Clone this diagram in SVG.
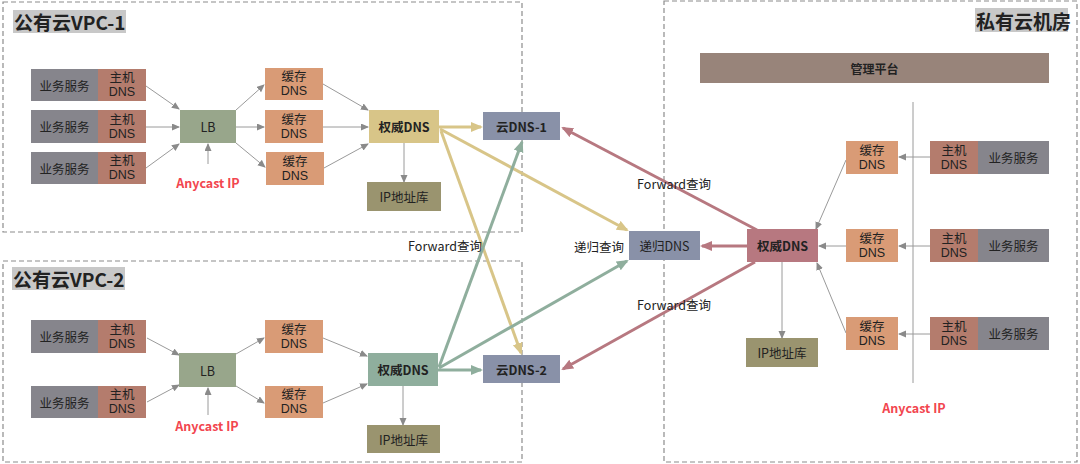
<svg xmlns="http://www.w3.org/2000/svg" width="1080" height="464" viewBox="0 0 1080 464">
<style>
text{font-family:"Noto Sans CJK SC","Open Sans",sans-serif;fill:#222;text-anchor:middle;dominant-baseline:central;font-size:12.5px}
text.m{font-family:"Liberation Sans","Noto Sans CJK SC",sans-serif}
.b{font-weight:bold}
.t{font-weight:bold;font-size:19px;text-anchor:start}
.red{fill:#f2464f;font-weight:bold;font-size:12.5px}
.zone{fill:none;stroke:#8c8c8c;stroke-width:1.2;stroke-dasharray:5,3}
.tbg{fill:#c8c8c8}
.svc{fill:#86858c}
.host{fill:#b47c6d}
.cache{fill:#d99b76}
.lb{fill:#98a68b}
.ipdb{fill:#9a946f}
.cdns{fill:#8991a8}
.thin{stroke:#9a9a9a;stroke-width:1;fill:none}
.ty{stroke:#d8c588;stroke-width:3;fill:none}
.tg{stroke:#8fae9d;stroke-width:3;fill:none}
.tr{stroke:#b77880;stroke-width:3;fill:none}
</style>
<defs>
<marker id="ag" markerUnits="userSpaceOnUse" markerWidth="8" markerHeight="8" refX="7" refY="3.5" orient="auto"><path d="M0,0 L8,3.5 L0,7 z" fill="#8a8a8a"/></marker>
<marker id="ay" markerUnits="userSpaceOnUse" markerWidth="13" markerHeight="11" refX="10" refY="5" orient="auto"><path d="M0,0 L12,5 L0,10 z" fill="#d8c588"/></marker>
<marker id="agr" markerUnits="userSpaceOnUse" markerWidth="13" markerHeight="11" refX="10" refY="5" orient="auto"><path d="M0,0 L12,5 L0,10 z" fill="#8fae9d"/></marker>
<marker id="ar" markerUnits="userSpaceOnUse" markerWidth="13" markerHeight="11" refX="10" refY="5" orient="auto"><path d="M0,0 L12,5 L0,10 z" fill="#b77880"/></marker>
</defs>

<g id="zones">
<rect class="zone" x="3" y="2" width="519" height="230"/>
<rect class="zone" x="3" y="261" width="519" height="201"/>
<rect class="zone" x="664" y="1" width="413" height="461"/>
<rect class="tbg" x="13" y="10" width="113" height="23"/>
<text class="t" x="14" y="21.5">公有云VPC-1</text>
<rect class="tbg" x="12" y="267" width="113" height="23"/>
<text class="t" x="13" y="278.5">公有云VPC-2</text>
<rect class="tbg" x="975" y="8" width="93" height="24"/>
<text class="t" x="976" y="20">私有云机房</text>
</g>

<g id="connectors">
<line class="thin" x1="146" y1="86" x2="179" y2="109" marker-end="url(#ag)"/>
<line class="thin" x1="146" y1="127" x2="179" y2="127" marker-end="url(#ag)"/>
<line class="thin" x1="146" y1="168" x2="179" y2="144" marker-end="url(#ag)"/>
<line class="thin" x1="236" y1="110" x2="264" y2="85" marker-end="url(#ag)"/>
<line class="thin" x1="236" y1="127" x2="264" y2="127" marker-end="url(#ag)"/>
<line class="thin" x1="236" y1="143" x2="265" y2="167" marker-end="url(#ag)"/>
<line class="thin" x1="323" y1="84" x2="368" y2="110" marker-end="url(#ag)"/>
<line class="thin" x1="323" y1="127" x2="368" y2="127" marker-end="url(#ag)"/>
<line class="thin" x1="324" y1="168" x2="368" y2="144" marker-end="url(#ag)"/>
<line class="thin" x1="404" y1="143" x2="404" y2="182" marker-end="url(#ag)"/>
<line class="thin" x1="208" y1="164" x2="208" y2="144" marker-end="url(#ag)"/>
<line class="thin" x1="147" y1="338" x2="179" y2="355" marker-end="url(#ag)"/>
<line class="thin" x1="147" y1="402" x2="179" y2="385" marker-end="url(#ag)"/>
<line class="thin" x1="236" y1="354" x2="264" y2="338" marker-end="url(#ag)"/>
<line class="thin" x1="236" y1="386" x2="264" y2="403" marker-end="url(#ag)"/>
<line class="thin" x1="323" y1="338" x2="367" y2="356" marker-end="url(#ag)"/>
<line class="thin" x1="323" y1="403" x2="367" y2="384" marker-end="url(#ag)"/>
<line class="thin" x1="403" y1="386" x2="403" y2="425" marker-end="url(#ag)"/>
<line class="thin" x1="208" y1="415" x2="208" y2="388" marker-end="url(#ag)"/>
<line class="thin" x1="913" y1="102" x2="913" y2="383"/>
<line class="thin" x1="930" y1="157" x2="899" y2="157" marker-end="url(#ag)"/>
<line class="thin" x1="930" y1="246" x2="899" y2="246" marker-end="url(#ag)"/>
<line class="thin" x1="930" y1="334" x2="899" y2="334" marker-end="url(#ag)"/>
<line class="thin" x1="846" y1="160" x2="816" y2="229" marker-end="url(#ag)"/>
<line class="thin" x1="846" y1="246" x2="819" y2="246" marker-end="url(#ag)"/>
<line class="thin" x1="846" y1="333" x2="817" y2="263" marker-end="url(#ag)"/>
<line class="thin" x1="782" y1="262" x2="782" y2="338" marker-end="url(#ag)"/>
<line class="ty" x1="439" y1="127" x2="481" y2="127" marker-end="url(#ay)"/>
<line class="ty" x1="440" y1="129" x2="627" y2="230" marker-end="url(#ay)"/>
<line class="ty" x1="441" y1="131" x2="521" y2="353" marker-end="url(#ay)"/>
<line class="tg" x1="438" y1="370" x2="481" y2="370" marker-end="url(#agr)"/>
<line class="tg" x1="439" y1="367" x2="522" y2="142" marker-end="url(#agr)"/>
<line class="tg" x1="439" y1="368" x2="627" y2="261" marker-end="url(#agr)"/>
<line class="tr" x1="757" y1="230" x2="563" y2="128" marker-end="url(#ar)"/>
<line class="tr" x1="747" y1="246" x2="702" y2="246" marker-end="url(#ar)"/>
<line class="tr" x1="755" y1="262" x2="563" y2="369" marker-end="url(#ar)"/>
<text x="445" y="245">Forward查询</text>
<text x="674" y="183">Forward查询</text>
<text x="674" y="304">Forward查询</text>
<text x="599" y="246">递归查询</text>
</g>

<g id="v1-svc1"><rect class="svc" x="31" y="69" width="67" height="32"/><text x="64.5" y="85">业务服务</text></g>
<g id="v1-host1"><rect class="host" x="98" y="69" width="48" height="32"/><text class="m" x="122" y="78">主机<tspan x="122" dy="14.3">DNS</tspan></text></g>
<g id="v1-svc2"><rect class="svc" x="31" y="110" width="67" height="33"/><text x="64.5" y="126.5">业务服务</text></g>
<g id="v1-host2"><rect class="host" x="98" y="110" width="48" height="33"/><text class="m" x="122" y="119.5">主机<tspan x="122" dy="14.3">DNS</tspan></text></g>
<g id="v1-svc3"><rect class="svc" x="31" y="152" width="67" height="32"/><text x="64.5" y="168">业务服务</text></g>
<g id="v1-host3"><rect class="host" x="98" y="152" width="48" height="32"/><text class="m" x="122" y="161">主机<tspan x="122" dy="14.3">DNS</tspan></text></g>
<g id="v1-lb"><rect class="lb" x="180" y="110" width="56" height="33"/><text x="208" y="126.5">LB</text></g>
<g id="v1-anycast"><text class="red" x="208" y="182">Anycast IP</text></g>
<g id="v1-cache1"><rect class="cache" x="265" y="68" width="58" height="32"/><text class="m" x="294" y="77">缓存<tspan x="294" dy="14.3">DNS</tspan></text></g>
<g id="v1-cache2"><rect class="cache" x="265" y="110" width="58" height="33"/><text class="m" x="294" y="119.5">缓存<tspan x="294" dy="14.3">DNS</tspan></text></g>
<g id="v1-cache3"><rect class="cache" x="266" y="152" width="58" height="33"/><text class="m" x="295" y="161.5">缓存<tspan x="295" dy="14.3">DNS</tspan></text></g>
<g id="v1-auth"><rect x="369" y="110" width="70" height="33" fill="#d8c588"/><text class="b" x="404" y="126.5">权威DNS</text></g>
<g id="v1-ipdb"><rect class="ipdb" x="367" y="182" width="74" height="29"/><text x="404" y="196.5">IP地址库</text></g>
<g id="cloud-dns-1"><rect class="cdns" x="483" y="112" width="77" height="28"/><text class="b" x="521.5" y="126">云DNS-1</text></g>

<g id="v2-svc1"><rect class="svc" x="31" y="320" width="67" height="33"/><text x="64.5" y="336.5">业务服务</text></g>
<g id="v2-host1"><rect class="host" x="98" y="320" width="48" height="33"/><text class="m" x="122" y="329.5">主机<tspan x="122" dy="14.3">DNS</tspan></text></g>
<g id="v2-svc2"><rect class="svc" x="31" y="386" width="67" height="32"/><text x="64.5" y="402">业务服务</text></g>
<g id="v2-host2"><rect class="host" x="98" y="386" width="48" height="32"/><text class="m" x="122" y="395">主机<tspan x="122" dy="14.3">DNS</tspan></text></g>
<g id="v2-lb"><rect class="lb" x="179" y="353" width="57" height="34"/><text x="207.5" y="370">LB</text></g>
<g id="v2-anycast"><text class="red" x="207" y="425">Anycast IP</text></g>
<g id="v2-cache1"><rect class="cache" x="265" y="320" width="58" height="33"/><text class="m" x="294" y="329.5">缓存<tspan x="294" dy="14.3">DNS</tspan></text></g>
<g id="v2-cache2"><rect class="cache" x="265" y="386" width="58" height="32"/><text class="m" x="294" y="395">缓存<tspan x="294" dy="14.3">DNS</tspan></text></g>
<g id="v2-auth"><rect x="368" y="353" width="70" height="33" fill="#8fae9d"/><text class="b" x="403" y="369.5">权威DNS</text></g>
<g id="v2-ipdb"><rect class="ipdb" x="367" y="425" width="73" height="28"/><text x="403.5" y="439">IP地址库</text></g>
<g id="cloud-dns-2"><rect class="cdns" x="483" y="355" width="77" height="28"/><text class="b" x="521.5" y="369">云DNS-2</text></g>

<g id="recursive-dns"><rect class="cdns" x="629" y="231" width="71" height="29"/><text x="664.5" y="245.5">递归DNS</text></g>

<g id="mgmt"><rect x="700" y="53" width="349" height="30" fill="#98847a"/><text class="b" x="874.5" y="68" style="font-size:12px">管理平台</text></g>
<g id="p-auth"><rect x="747" y="229" width="71" height="33" fill="#b77880"/><text class="b" x="782.5" y="245.5">权威DNS</text></g>
<g id="p-ipdb"><rect class="ipdb" x="746" y="338" width="72" height="29"/><text x="782" y="352.5">IP地址库</text></g>
<g id="p-cache1"><rect class="cache" x="846" y="141" width="52" height="33"/><text class="m" x="872" y="150.5">缓存<tspan x="872" dy="14.3">DNS</tspan></text></g>
<g id="p-cache2"><rect class="cache" x="846" y="229" width="52" height="33"/><text class="m" x="872" y="238.5">缓存<tspan x="872" dy="14.3">DNS</tspan></text></g>
<g id="p-cache3"><rect class="cache" x="846" y="317" width="52" height="33"/><text class="m" x="872" y="326.5">缓存<tspan x="872" dy="14.3">DNS</tspan></text></g>
<g id="p-host1"><rect class="host" x="930" y="141" width="48" height="33"/><text class="m" x="954" y="150.5">主机<tspan x="954" dy="14.3">DNS</tspan></text></g>
<g id="p-svc1"><rect class="svc" x="978" y="141" width="71" height="33"/><text x="1013.5" y="157.5">业务服务</text></g>
<g id="p-host2"><rect class="host" x="930" y="229" width="48" height="33"/><text class="m" x="954" y="238.5">主机<tspan x="954" dy="14.3">DNS</tspan></text></g>
<g id="p-svc2"><rect class="svc" x="978" y="229" width="71" height="33"/><text x="1013.5" y="245.5">业务服务</text></g>
<g id="p-host3"><rect class="host" x="930" y="317" width="48" height="33"/><text class="m" x="954" y="326.5">主机<tspan x="954" dy="14.3">DNS</tspan></text></g>
<g id="p-svc3"><rect class="svc" x="978" y="317" width="71" height="33"/><text x="1013.5" y="333.5">业务服务</text></g>
<g id="p-anycast"><text class="red" x="914" y="407">Anycast IP</text></g>
</svg>
